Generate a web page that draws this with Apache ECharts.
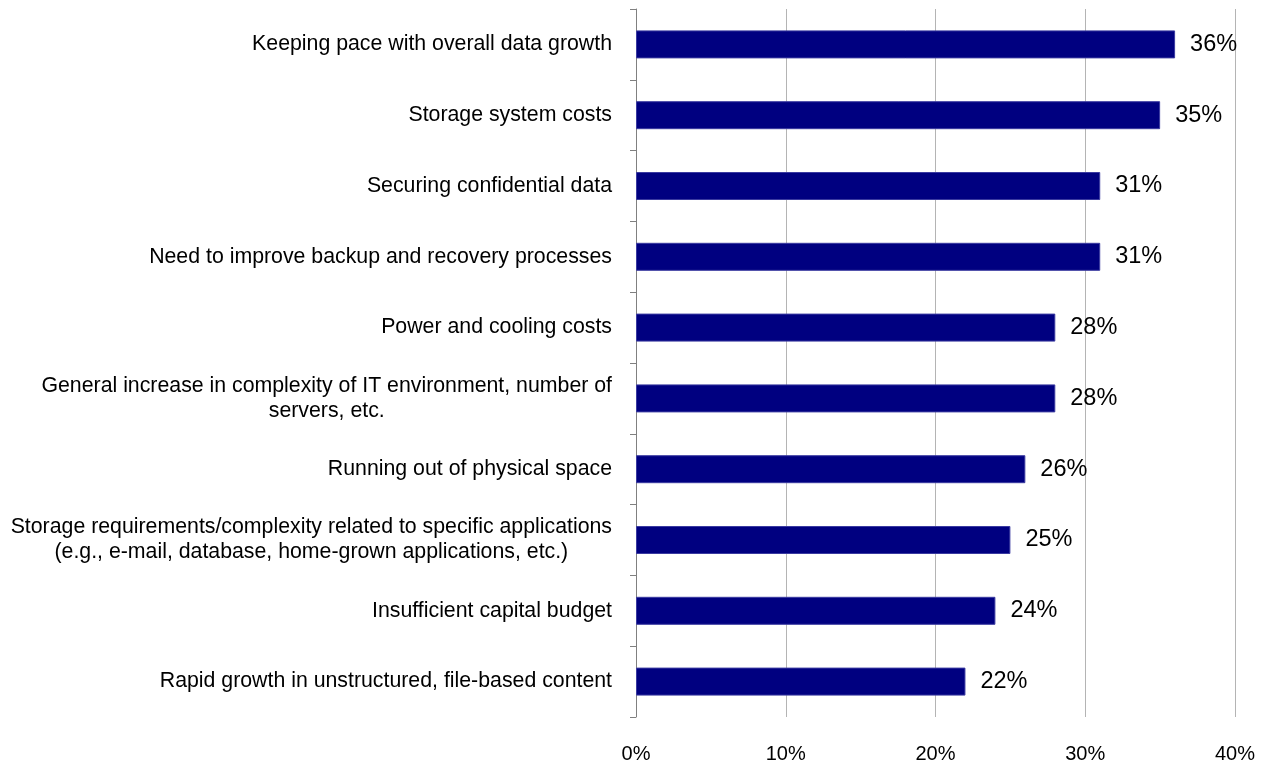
<!DOCTYPE html>
<html><head><meta charset="utf-8">
<script src="https://cdn.jsdelivr.net/npm/echarts@6/dist/echarts.min.js"></script>
<style>html,body{margin:0;padding:0;background:#fff}#c{width:1263px;height:764px}</style>
</head><body><div id="c"></div>
<script>
const categories = [
  "Keeping pace with overall data growth",
  "Storage system costs",
  "Securing confidential data",
  "Need to improve backup and recovery processes",
  "Power and cooling costs",
  "General increase in complexity of IT environment, number of\nservers, etc.",
  "Running out of physical space",
  "Storage requirements/complexity related to specific applications\n(e.g., e-mail, database, home-grown applications, etc.)",
  "Insufficient capital budget",
  "Rapid growth in unstructured, file-based content"
];
const values = [36, 35, 31, 31, 28, 28, 26, 25, 24, 22];
const xTicks = [0, 10, 20, 30, 40];

const font = 'Liberation Sans, Arial, sans-serif';
const chart = echarts.init(document.getElementById('c'), null, {renderer: 'canvas'});
chart.setOption({
  animation: false,
  grid: {left: 636, right: 28, top: 9, bottom: 47, containLabel: false},
  xAxis: {
    type: 'value', min: xTicks[0], max: xTicks[xTicks.length - 1], interval: 10,
    axisLine: {show: false}, axisTick: {show: false},
    axisLabel: {formatter: v => v + '%', fontFamily: font, fontSize: 20, color: '#000', margin: 27},
    splitLine: {show: true, lineStyle: {color: '#b4b4b4', width: 1}}
  },
  yAxis: {
    type: 'category', data: categories, inverse: true,
    axisLine: {show: true, lineStyle: {color: '#808080', width: 1}},
    axisTick: {show: true, length: 6, lineStyle: {color: '#808080'}},
    axisLabel: {
      margin: 24, fontFamily: font, fontSize: 21.3, color: '#000',
      formatter: v => v.split('\n').map(l => '{c|' + l + '}').join('\n'),
      rich: {c: {align: 'center', fontFamily: font, fontSize: 21.3, color: '#000', lineHeight: 25}}
    },
    splitLine: {show: false}
  },
  series: [{
    type: 'bar', data: values, barWidth: 28,
    itemStyle: {color: '#000080', borderColor: '#3a3aa0', borderWidth: 1},
    label: {show: true, position: 'right', distance: 15, formatter: p => p.value + '%',
      fontFamily: font, fontSize: 23.5, color: '#000'}
  }]
});
</script></body></html>
